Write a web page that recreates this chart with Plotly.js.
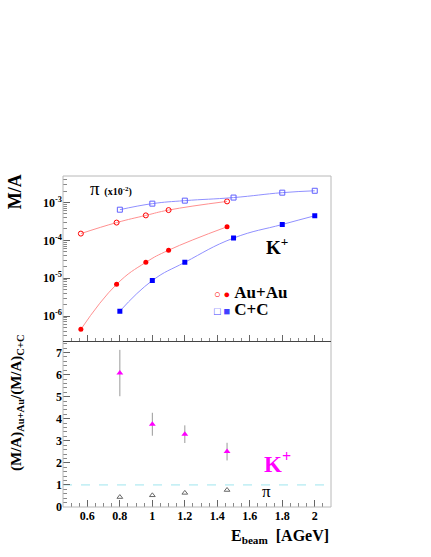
<!DOCTYPE html>
<html>
<head>
<meta charset="utf-8">
<script src="https://cdn.plot.ly/plotly-3.0.1.min.js"></script>
<style>
  body { margin: 0; background: #fff; }
  #plot { width: 431px; height: 557px; }
</style>
</head>
<body>
<div id="plot"></div>
<script>
// beam energies (AGeV)
const auEnergy = [0.56, 0.78, 0.96, 1.1, 1.46];
const ccEnergy = [0.8, 1.0, 1.2, 1.5, 1.8, 2.0];

// multiplicity per participant (pions scaled by 1e-2)
const auPion = [1.51e-4, 2.95e-4, 4.57e-4, 6.31e-4, 1.07e-3];
const ccPion = [6.46e-4, 9.33e-4, 1.12e-3, 1.35e-3, 1.82e-3, 2.04e-3];
const auKaon = [4.47e-7, 6.92e-6, 2.63e-5, 5.50e-5, 2.29e-4];
const ccKaon = [1.35e-6, 8.71e-6, 2.63e-5, 1.15e-4, 2.63e-4, 4.47e-4];

// ratio Au+Au / C+C
const ratioEnergy = [0.8, 1.0, 1.2, 1.46];
const kaonRatio = [6.07, 3.75, 3.30, 2.51];
const kaonRatioErr = [1.05, 0.52, 0.40, 0.40];
const pionRatio = [0.45, 0.53, 0.64, 0.77];

const xTicks = [0.6, 0.8, 1, 1.2, 1.4, 1.6, 1.8, 2];
const xTickText = ['<b>0.6</b>', '<b>0.8</b>', '<b>1</b>', '<b>1.2</b>', '<b>1.4</b>', '<b>1.6</b>', '<b>1.8</b>', '<b>2</b>'];
const ratioTicks = [0, 1, 2, 3, 4, 5, 6, 7];
const ratioTickText = ['<b>0</b>', '<b>1</b>', '<b>2</b>', '<b>3</b>', '<b>4</b>', '<b>5</b>', '<b>6</b>', '<b>7</b>'];
const logTicks = [1e-6, 1e-5, 1e-4, 1e-3];
const logTickText = ['<b>10<sup>-6</sup></b>', '<b>10<sup>-5</sup></b>', '<b>10<sup>-4</sup></b>', '<b>10<sup>-3</sup></b>'];

const serif = 'Liberation Serif';
function tickFont() {
  return { family: serif, size: 12, color: '#000' };
}

const traces = [
  // upper panel: fit curves + points
  { x: auEnergy, y: auPion, xaxis: 'x2', yaxis: 'y2', mode: 'lines+markers', type: 'scatter',
    line: { color: '#ff9090', width: 1, shape: 'spline', smoothing: 1.3 },
    marker: { symbol: 'circle-open', color: 'red', size: 5 } },
  { x: ccEnergy, y: ccPion, xaxis: 'x2', yaxis: 'y2', mode: 'lines+markers', type: 'scatter',
    line: { color: '#9090ff', width: 1, shape: 'spline', smoothing: 1.3 },
    marker: { symbol: 'square-open', color: '#6060ff', size: 5 } },
  { x: auEnergy, y: auKaon, xaxis: 'x2', yaxis: 'y2', mode: 'lines+markers', type: 'scatter',
    line: { color: '#ff9090', width: 1, shape: 'spline', smoothing: 1.3 },
    marker: { symbol: 'circle', color: 'red', size: 5 } },
  { x: ccEnergy, y: ccKaon, xaxis: 'x2', yaxis: 'y2', mode: 'lines+markers', type: 'scatter',
    line: { color: '#9090ff', width: 1, shape: 'spline', smoothing: 1.3 },
    marker: { symbol: 'square', color: '#0000ff', size: 5 } },
  // lower panel: ratios
  { x: ratioEnergy, y: kaonRatio, xaxis: 'x', yaxis: 'y', mode: 'markers', type: 'scatter',
    marker: { symbol: 'triangle-up', color: '#ff00ff', size: 6 },
    error_y: { type: 'data', array: kaonRatioErr, color: '#999', thickness: 1, width: 0 } },
  { x: ratioEnergy, y: pionRatio, xaxis: 'x', yaxis: 'y', mode: 'markers', type: 'scatter',
    marker: { symbol: 'triangle-up-open', color: '#666', size: 5 } },
  // reference line at ratio 1
  { x: [0.45, 2.1], y: [1, 1], xaxis: 'x', yaxis: 'y', mode: 'lines', type: 'scatter',
    line: { color: '#9ee6ee', width: 1, dash: 'dash' } }
];

function note(x, y, text, size, extra) {
  return Object.assign({
    xref: 'paper', yref: 'paper', x: x, y: y, text: text, showarrow: false,
    xanchor: 'center', yanchor: 'middle',
    font: { family: serif, size: size, color: '#000' }
  }, extra || {});
}

const layout = {
  width: 431,
  height: 557,
  margin: { l: 63, r: 100, t: 176, b: 50 },
  font: { family: serif, color: '#000' },
  paper_bgcolor: '#fff',
  plot_bgcolor: '#fff',
  showlegend: false,
  xaxis: {
    domain: [0, 1], anchor: 'y', range: [0.45, 2.1],
    tickmode: 'array', tickvals: xTicks, ticktext: xTickText,
    ticks: 'inside', ticklen: 7, tickcolor: '#666',
    minor: { dtick: 0.05, tick0: 0.6, ticks: 'inside', ticklen: 4, tickcolor: '#888' },
    showgrid: false, zeroline: false, showline: false, tickfont: tickFont()
  },
  xaxis2: {
    domain: [0, 1], anchor: 'y2', matches: 'x',
    tickmode: 'array', tickvals: xTicks, ticks: 'inside', ticklen: 7, tickcolor: '#666',
    minor: { dtick: 0.05, tick0: 0.6, ticks: 'inside', ticklen: 4, tickcolor: '#888' },
    showticklabels: false, showgrid: false, zeroline: false, showline: false
  },
  yaxis: {
    domain: [0, 0.5], anchor: 'x', range: [0, 7.5],
    tickmode: 'array', tickvals: ratioTicks, ticktext: ratioTickText,
    ticks: 'inside', ticklen: 7, tickcolor: '#666',
    minor: { dtick: 0.2, ticks: 'inside', ticklen: 4, tickcolor: '#888' },
    showgrid: false, zeroline: false, showline: false, tickfont: tickFont()
  },
  yaxis2: {
    domain: [0.5, 1], anchor: 'x2', type: 'log', range: [-6.67, -2.3],
    tickmode: 'array', tickvals: logTicks, ticktext: logTickText,
    ticks: 'inside', ticklen: 7, tickcolor: '#666',
    minor: { dtick: 'D1', ticks: 'inside', ticklen: 4, tickcolor: '#888' },
    showgrid: false, zeroline: false, showline: false, tickfont: tickFont()
  },
  shapes: [
    { type: 'rect', xref: 'paper', yref: 'paper', x0: 0, x1: 1, y0: 0, y1: 1,
      line: { color: '#b8b8b8', width: 1 } },
    { type: 'line', xref: 'paper', yref: 'paper', x0: 0, x1: 1, y0: 0.5, y1: 0.5,
      line: { color: '#444', width: 1.2 } }
  ],
  annotations: [
    note(-0.18, 0.953, '<b>M/A</b>', 18, { textangle: -90 }),
    note(-0.172, 0.314, '<b>(M/A)<sub>Au+Au</sub>/(M/A)<sub>C+C</sub></b>', 15, { textangle: -90 }),
    note(0.093, 0.961, 'π <b><span style="font-size:10px">(x10<sup>-2</sup>)</span></b>', 19, { xanchor: 'left' }),
    note(0.8, 0.79, '<b>K<sup>+</sup></b>', 19),
    note(0.555, 0.649, '<span style="color:red;font-size:11px">○ ●</span> <b>Au+Au</b>', 17, { xanchor: 'left' }),
    note(0.555, 0.597, '<span style="color:#4040ff;font-size:11px">□ ■</span> <b>C+C</b>', 17, { xanchor: 'left' }),
    note(0.8, 0.135, '<b>K<sup>+</sup></b>', 23, { font: { family: serif, size: 23, color: '#ff00ff' } }),
    note(0.76, 0.048, 'π', 17),
    note(1, -0.09, '<b>E<sub>beam</sub>  [AGeV]</b>', 16, { xanchor: 'right' })
  ]
};

Plotly.newPlot('plot', traces, layout, { displayModeBar: false, staticPlot: true });
</script>
</body>
</html>
